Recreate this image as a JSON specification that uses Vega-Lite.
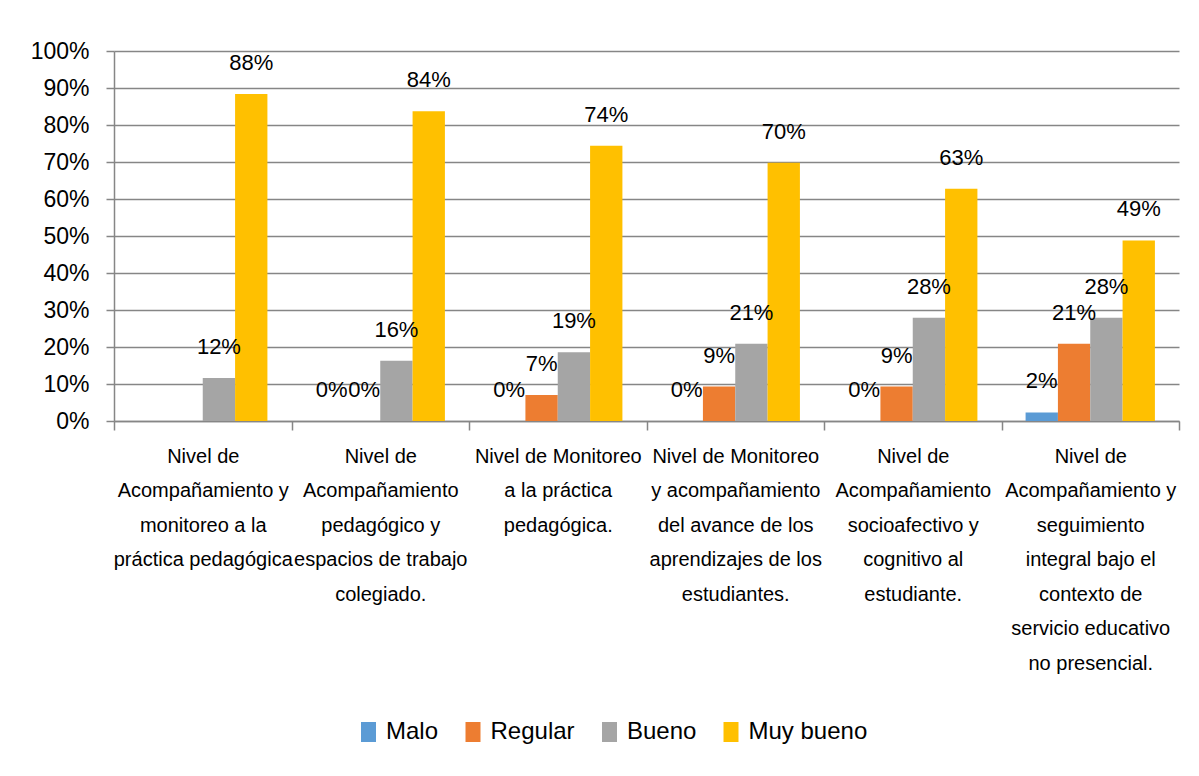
{
  "$schema": "https://vega.github.io/schema/vega-lite/v6.json",
  "width": 1065,
  "height": 370,
  "autosize": {"type": "none"},
  "padding": {"left": 114, "top": 51, "right": 20, "bottom": 355},
  "background": "white",
  "config": {"view": {"stroke": null}, "font": "Liberation Sans"},
  "data": {
    "values": [
      {"nivel": "Nivel de|Acompañamiento y|monitoreo a la|práctica pedagógica", "serie": "Bueno", "valor": 0.116},
      {"nivel": "Nivel de|Acompañamiento y|monitoreo a la|práctica pedagógica", "serie": "Muy bueno", "valor": 0.884},
      {"nivel": "Nivel de|Acompañamiento|pedagógico y|espacios de trabajo|colegiado.", "serie": "Malo", "valor": 0},
      {"nivel": "Nivel de|Acompañamiento|pedagógico y|espacios de trabajo|colegiado.", "serie": "Regular", "valor": 0},
      {"nivel": "Nivel de|Acompañamiento|pedagógico y|espacios de trabajo|colegiado.", "serie": "Bueno", "valor": 0.163},
      {"nivel": "Nivel de|Acompañamiento|pedagógico y|espacios de trabajo|colegiado.", "serie": "Muy bueno", "valor": 0.837},
      {"nivel": "Nivel de Monitoreo|a la práctica|pedagógica.", "serie": "Malo", "valor": 0},
      {"nivel": "Nivel de Monitoreo|a la práctica|pedagógica.", "serie": "Regular", "valor": 0.07},
      {"nivel": "Nivel de Monitoreo|a la práctica|pedagógica.", "serie": "Bueno", "valor": 0.186},
      {"nivel": "Nivel de Monitoreo|a la práctica|pedagógica.", "serie": "Muy bueno", "valor": 0.744},
      {"nivel": "Nivel de Monitoreo|y acompañamiento|del avance de los|aprendizajes de los|estudiantes.", "serie": "Malo", "valor": 0},
      {"nivel": "Nivel de Monitoreo|y acompañamiento|del avance de los|aprendizajes de los|estudiantes.", "serie": "Regular", "valor": 0.093},
      {"nivel": "Nivel de Monitoreo|y acompañamiento|del avance de los|aprendizajes de los|estudiantes.", "serie": "Bueno", "valor": 0.209},
      {"nivel": "Nivel de Monitoreo|y acompañamiento|del avance de los|aprendizajes de los|estudiantes.", "serie": "Muy bueno", "valor": 0.698},
      {"nivel": "Nivel de|Acompañamiento|socioafectivo y|cognitivo al|estudiante.", "serie": "Malo", "valor": 0},
      {"nivel": "Nivel de|Acompañamiento|socioafectivo y|cognitivo al|estudiante.", "serie": "Regular", "valor": 0.093},
      {"nivel": "Nivel de|Acompañamiento|socioafectivo y|cognitivo al|estudiante.", "serie": "Bueno", "valor": 0.279},
      {"nivel": "Nivel de|Acompañamiento|socioafectivo y|cognitivo al|estudiante.", "serie": "Muy bueno", "valor": 0.628},
      {"nivel": "Nivel de|Acompañamiento y|seguimiento|integral bajo el|contexto de|servicio educativo|no presencial.", "serie": "Malo", "valor": 0.023},
      {"nivel": "Nivel de|Acompañamiento y|seguimiento|integral bajo el|contexto de|servicio educativo|no presencial.", "serie": "Regular", "valor": 0.209},
      {"nivel": "Nivel de|Acompañamiento y|seguimiento|integral bajo el|contexto de|servicio educativo|no presencial.", "serie": "Bueno", "valor": 0.279},
      {"nivel": "Nivel de|Acompañamiento y|seguimiento|integral bajo el|contexto de|servicio educativo|no presencial.", "serie": "Muy bueno", "valor": 0.488}
    ]
  },
  "encoding": {
    "x": {
      "field": "nivel",
      "type": "nominal",
      "sort": null,
      "scale": {"paddingInner": 0, "paddingOuter": 0},
      "axis": {
        "title": null,
        "labelAngle": 0,
        "labelExpr": "split(datum.label, '|')",
        "labelFont": "Liberation Sans",
        "labelFontSize": 20,
        "labelLineHeight": 34.5,
        "labelColor": "#000000",
        "labelBaseline": "top",
        "labelAlign": "center",
        "labelPadding": 16,
        "labelLimit": 400,
        "labelOverlap": false,
        "tickBand": "extent",
        "tickSize": 9,
        "tickColor": "#868686",
        "tickWidth": 1.5,
        "domainColor": "#868686",
        "domainWidth": 1.5,
        "grid": false
      }
    },
    "xOffset": {
      "field": "serie",
      "type": "nominal",
      "scale": {"domain": ["Malo", "Regular", "Bueno", "Muy bueno"], "paddingInner": 0, "paddingOuter": 0.745}
    },
    "y": {
      "field": "valor",
      "type": "quantitative",
      "scale": {"domain": [0, 1]},
      "axis": {
        "title": null,
        "format": "%",
        "values": [0, 0.1, 0.2, 0.3, 0.4, 0.5, 0.6, 0.7, 0.8, 0.9, 1],
        "labelFont": "Liberation Sans",
        "labelFontSize": 23,
        "labelColor": "#000000",
        "labelPadding": 17,
        "tickSize": 8,
        "tickColor": "#868686",
        "tickWidth": 1.5,
        "domainColor": "#868686",
        "domainWidth": 1.5,
        "gridColor": "#868686",
        "gridWidth": 1.5
      }
    }
  },
  "layer": [
    {
      "mark": {"type": "bar"},
      "encoding": {
        "color": {
          "field": "serie",
          "type": "nominal",
          "scale": {
            "domain": ["Malo", "Regular", "Bueno", "Muy bueno"],
            "range": ["#5B9BD5", "#ED7D31", "#A5A5A5", "#FFC000"]
          },
          "legend": {
            "title": null,
            "orient": "none",
            "legendX": 242.5,
            "legendY": 669,
            "direction": "horizontal",
            "symbolType": "M-0.75,-1L0.75,-1L0.75,1L-0.75,1Z",
            "symbolSize": 400,
            "symbolStrokeWidth": 0,
            "symbolOpacity": 1,
            "labelFont": "Liberation Sans",
            "labelFontSize": 24,
            "labelColor": "#000000",
            "labelOffset": 5.5,
            "columnPadding": 22.5,
            "labelLimit": 300
          }
        }
      }
    },
    {
      "mark": {"type": "text", "dy": -24, "baseline": "alphabetic", "align": "center", "font": "Liberation Sans", "fontSize": 22, "color": "#000000"},
      "encoding": {
        "text": {"field": "valor", "type": "quantitative", "format": ".0%"}
      }
    }
  ]
}
